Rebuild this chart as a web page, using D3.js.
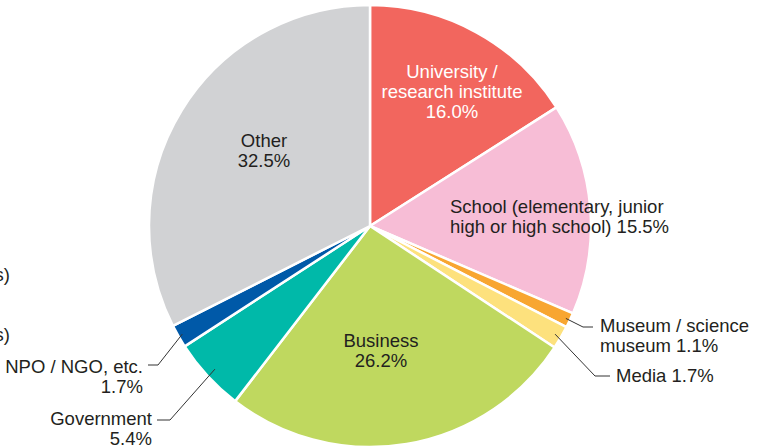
<!DOCTYPE html>
<html>
<head>
<meta charset="utf-8">
<script src="https://cdn.jsdelivr.net/npm/d3@7"></script>
<style>
  html, body { margin: 0; padding: 0; background: #fff; }
  svg { display: block; }
  text { font-family: "Liberation Sans", Arial, Helvetica, sans-serif; }
</style>
</head>
<body>
<svg id="chart" width="767" height="448"></svg>
<script>
// Shares by sector, clockwise from 12 o'clock
const categories = [
  "University / research institute",
  "School (elementary, junior high or high school)",
  "Museum / science museum",
  "Media",
  "Business",
  "Government",
  "NPO / NGO, etc.",
  "Other"
];
const shares = [16.0, 15.5, 1.1, 1.7, 26.2, 5.4, 1.7, 32.5];
const colors = ["#f2665e", "#f7bdd6", "#f8a631", "#fde17d", "#bfd85f", "#00b9a9", "#0059a8", "#d1d2d4"];

const svg = d3.select("#chart");
const cx = 370, cy = 226, R = 221;
const g = svg.append("g").attr("transform", `translate(${cx},${cy})`);

const data = categories.map((c, i) => ({ name: c, value: shares[i], color: colors[i] }));
const pie = d3.pie().value(d => d.value).sort(null);
const arcs = pie(data);
const arc = d3.arc().innerRadius(0).outerRadius(R);

g.selectAll("path.slice")
  .data(arcs)
  .join("path")
  .attr("class", "slice")
  .attr("d", arc)
  .attr("fill", d => d.data.color)
  .attr("stroke", "#fff")
  .attr("stroke-width", 2.5)
  .attr("stroke-linejoin", "round");

const fmt = v => v.toFixed(1) + "%";
const ink = "#231f20";
const fs = 18.5;

// Labels drawn inside their slices
function block(lines, x, y, anchor, fill) {
  const t = svg.append("text")
    .attr("x", x).attr("y", y)
    .attr("text-anchor", anchor)
    .attr("font-size", fs)
    .attr("fill", fill);
  lines.forEach((l, i) => t.append("tspan").attr("x", x).attr("y", y + i * 20).text(l));
}

block(["University /", "research institute", fmt(shares[0])], 452, 78, "middle", "#fff");
block(["School (elementary, junior", "high or high school) " + fmt(shares[1])], 450, 213, "start", ink);
block(["Business", fmt(shares[4])], 381, 347, "middle", ink);
block(["Other", fmt(shares[7])], 264, 147, "middle", ink);

// Callouts for the thin slices: leader from inside the slice to an elbow, then a short tail
const callouts = [
  { i: 2, rf: 0.98, elbow: [583, 327], tail: 593, lines: ["Museum / science", "museum " + fmt(shares[2])], tx: 600, ty: 332, anchor: "start" },
  { i: 3, rf: 0.97, elbow: [595, 376], tail: 610, lines: ["Media " + fmt(shares[3])], tx: 616, ty: 382, anchor: "start" },
  { i: 6, rf: 0.98, elbow: [158, 365], tail: 148, lines: ["NPO / NGO, etc.", fmt(shares[6])], tx: 143, ty: 373, anchor: "end" },
  { i: 5, rf: 0.955, elbow: [170, 420], tail: 157, lines: ["Government", fmt(shares[5])], tx: 152, ty: 425, anchor: "end" }
];

callouts.forEach(c => {
  const a = arcs[c.i];
  const mid = (a.startAngle + a.endAngle) / 2;
  const r = R * c.rf;
  const p0 = [cx + r * Math.sin(mid), cy - r * Math.cos(mid)];
  svg.append("polyline")
    .attr("points", [p0, c.elbow, [c.tail, c.elbow[1]]].map(p => p.join(",")).join(" "))
    .attr("fill", "none")
    .attr("stroke", "#333")
    .attr("stroke-width", 1);
  block(c.lines, c.tx, c.ty, c.anchor, ink);
});

// Trailing ends of neighbouring legend text at the left margin
svg.append("text").attr("x", 10).attr("y", 281).attr("text-anchor", "end")
  .attr("font-size", fs).attr("fill", ink).text("s)");
svg.append("text").attr("x", 10).attr("y", 341).attr("text-anchor", "end")
  .attr("font-size", fs).attr("fill", ink).text("s)");
</script>
</body>
</html>
